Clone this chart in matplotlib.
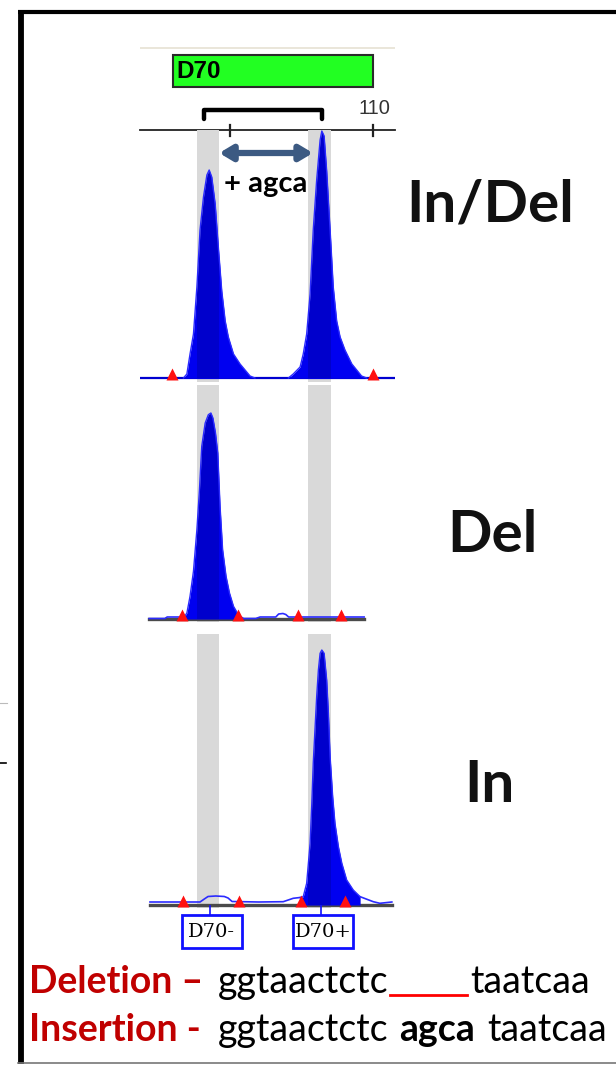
import matplotlib
matplotlib.use("Agg")
import matplotlib.pyplot as plt
from matplotlib.patches import Rectangle, FancyArrowPatch

W, H, DPI = 616, 1066, 100
X0, XW = 140, 255          # pixel extent of the electropherogram x-axis
PX = 10                    # RFU per pixel in the panels

# ---------------- data ----------------
bp_range = [101.85, 110.77]
ruler_ticks = [105, 110]
ruler_labels = ["", "110"]
marker_name = "D70"
marker_range = [103.0, 110.0]
bracket_range = [104.1, 108.2]
insert_range = [104.62, 107.90]
insert_label = "+ agca"
bin_labels = ["D70-", "D70+"]
bin_lo = [103.85, 107.73]
bin_hi = [104.62, 108.53]
sample_labels = ["In/Del", "Del", "In"]

# In/Del sample (heterozygote)
indel_p1_bp = [103.37, 103.49, 103.60, 103.72, 103.84, 103.95, 104.07, 104.19, 104.27, 104.36,
               104.48, 104.59, 104.71, 104.83, 104.94, 105.12, 105.35, 105.70, 105.87]
indel_p1_rfu = [0, 40, 240, 440, 910, 1480, 1810, 2030, 2080, 2010,
                1740, 1310, 870, 570, 410, 240, 140, 20, 0]
indel_p2_bp = [107.04, 107.21, 107.45, 107.56, 107.68, 107.80, 107.91, 108.03, 108.15, 108.21,
               108.29, 108.38, 108.50, 108.61, 108.73, 108.85, 109.02, 109.26, 109.60, 109.78]
indel_p2_rfu = [0, 40, 110, 240, 440, 840, 1480, 1980, 2380, 2470,
                2420, 2070, 1480, 910, 570, 410, 280, 140, 20, 0]
indel_marks_bp = [102.97, 110.0]

# Del sample
del_peak_bp = [103.40, 103.49, 103.60, 103.72, 103.84, 103.93, 104.01, 104.13, 104.24, 104.33,
               104.40, 104.49, 104.57, 104.65, 104.74, 104.86, 104.98, 105.12, 105.29, 105.47]
del_peak_rfu = [20, 60, 227, 477, 893, 1293, 1727, 1960, 2043, 2060,
                2010, 1860, 1660, 1127, 693, 427, 260, 127, 43, 5]
del_left_bp = [102.17, 102.72, 102.80, 103.40]
del_left_rfu = [5, 5, 20, 20]
del_right_bp = [105.47, 105.90, 106.05, 106.60, 106.70, 106.85, 106.95, 107.05, 109.69]
del_right_rfu = [5, 5, 20, 20, 50, 55, 45, 20, 20]
del_marks_bp = [103.32, 105.28, 107.38, 108.88]
del_extent = [102.17, 109.69]

# In sample
in_peak_bp = [107.45, 107.56, 107.68, 107.80, 107.86, 107.91, 107.97, 108.03, 108.09, 108.15,
              108.21, 108.29, 108.38, 108.44, 108.50, 108.59, 108.67, 108.79, 108.91, 109.08,
              109.31, 109.55]
in_peak_rfu = [75, 83, 217, 617, 1017, 1417, 1750, 2083, 2350, 2517,
               2550, 2517, 2250, 1917, 1483, 1083, 817, 583, 417, 250,
               150, 83]
in_left_bp = [102.20, 103.95, 104.10, 104.23, 104.50, 104.80, 104.93, 105.07, 106.00, 106.86, 107.21, 107.45]
in_left_rfu = [30, 30, 60, 85, 90, 85, 70, 35, 30, 33, 67, 75]
in_right_bp = [109.55, 110.01, 110.24, 110.66]
in_right_rfu = [83, 33, 17, 30]
in_marks_bp = [103.36, 105.31, 107.48, 109.02]
in_extent = [102.20, 110.66]

# sequence annotation
del_prefix, del_seq1, del_seq2 = "Deletion \u2013", "ggtaactctc", "taatcaa"
ins_prefix, ins_seq1, ins_ins, ins_seq2 = "Insertion -", "ggtaactctc", "agca", "taatcaa"

# ---------------- figure ----------------
fig = plt.figure(figsize=(W / DPI, H / DPI), dpi=DPI)
fig.patch.set_facecolor("white")

BLUE = "#0000F0"
EDGE = "#2B2BFF"
GREY_BAND = "#D9D9D9"
RED_MARK = "#FF1010"


def panel(top, bottom, base):
    ax = fig.add_axes([X0 / W, 1 - bottom / H, XW / W, (bottom - top) / H])
    ax.set_xlim(bp_range)
    ax.set_ylim(-(bottom - base) * PX, (base - top) * PX)
    ax.axis("off")
    for lo, hi in zip(bin_lo, bin_hi):
        ax.axvspan(lo, hi, color=GREY_BAND, lw=0, zorder=1)
    return ax


def peak(ax, xs, ys):
    coll = ax.fill_between(xs, 0, ys, color=BLUE, lw=0, zorder=3)
    ax.plot(xs, ys, color=EDGE, lw=1.0, zorder=4)
    path = coll.get_paths()[0]
    for lo, hi in zip(bin_lo, bin_hi):
        s = ax.axvspan(lo, hi, color="#000040", alpha=0.2, lw=0, zorder=3.5)
        s.set_clip_path(path, ax.transData)


def marks(ax, xs):
    ax.plot(xs, [38] * len(xs), "^", color=RED_MARK, ms=8.5, mec="none", zorder=6)


# header: marker box, bracket and size ruler
hd = fig.add_axes([X0 / W, 1 - 140 / H, XW / W, 100 / H])
hd.set_xlim(bp_range)
hd.set_ylim(140, 40)
hd.axis("off")
hd.plot(bp_range, [48, 48], color="#E6E2D3", lw=1.2)
hd.add_patch(Rectangle((marker_range[0], 55), marker_range[1] - marker_range[0], 32,
                       fc="#22FF22", ec="#2A2A2A", lw=1.5))
hd.text(marker_range[0] + 0.12, 71.5, marker_name, ha="left", va="center",
        fontsize=17.5, fontweight="bold", family="Liberation Sans", color="black")
hd.plot([bracket_range[0], bracket_range[0], bracket_range[1], bracket_range[1]],
        [119, 110, 110, 119], color="black", lw=3.2, solid_capstyle="round",
        solid_joinstyle="round")
hd.plot(bp_range, [130, 130], color="#222222", lw=1.3, clip_on=False)
for t, lab in zip(ruler_ticks, ruler_labels):
    hd.plot([t, t], [125, 136], color="#222222", lw=1.6, clip_on=False)
    if lab:
        hd.text(t + 0.05, 109, lab, ha="center", va="center", fontsize=14.5,
                family="Liberation Sans", color="#333333")

# panel 1 : In/Del
a1 = panel(130, 382, 378)
a1.plot(bp_range, [0, 0], color="#0000D0", lw=1.6, zorder=2)
peak(a1, indel_p1_bp, indel_p1_rfu)
peak(a1, indel_p2_bp, indel_p2_rfu)
marks(a1, indel_marks_bp)
arr = FancyArrowPatch((insert_range[0], 2250), (insert_range[1], 2250),
                      arrowstyle="<|-|>,head_width=0.3,head_length=0.5",
                      mutation_scale=15, lw=4.5, color="#3C5A82",
                      shrinkA=0, shrinkB=0, joinstyle="round", zorder=7)
a1.add_patch(arr)
a1.text(sum(insert_range) / 2, 1940, insert_label, ha="center", va="center",
        fontsize=21, fontweight="bold", family="Lato", color="black", zorder=7)

# panel 2 : Del
a2 = panel(385, 622, 619)
a2.plot(del_extent, [0, 0], color="#4A4A4A", lw=2.4, zorder=2)
a2.plot(del_left_bp, del_left_rfu, color="#2B2BFF", lw=1.2, zorder=4)
a2.plot(del_right_bp, del_right_rfu, color="#2B2BFF", lw=1.2, zorder=4)
peak(a2, del_peak_bp, del_peak_rfu)
marks(a2, del_marks_bp)

# panel 3 : In
a3 = panel(634, 908, 905)
a3.plot(in_extent, [0, 0], color="#4A4A4A", lw=2.4, zorder=2)
a3.plot(in_left_bp, in_left_rfu, color="#2B2BFF", lw=1.2, zorder=4)
a3.plot(in_right_bp, in_right_rfu, color="#2B2BFF", lw=1.2, zorder=4)
peak(a3, in_peak_bp, in_peak_rfu)
marks(a3, in_marks_bp)

# bin labels
bl = fig.add_axes([X0 / W, 1 - 955 / H, XW / W, 50 / H])
bl.set_xlim(bp_range)
bl.set_ylim(955, 905)
bl.axis("off")
for lab, lo, hi in zip(bin_labels, bin_lo, bin_hi):
    c = (lo + hi) / 2
    bl.plot([c + 0.05, c + 0.05], [905, 915], color="#1010FF", lw=1.2)
    bx = c + 0.12
    bl.add_patch(Rectangle((bx - 1.05, 915), 2.1, 33, fc="white", ec="#1010FF", lw=2))
    bl.text(bx, 932, lab, ha="center", va="center", fontsize=14,
            family="DejaVu Serif", color="black")

# overlay: frame, sample labels, sequences
ov = fig.add_axes([0, 0, 1, 1])
ov.set_xlim(0, W)
ov.set_ylim(H, 0)
ov.axis("off")
ov.patch.set_alpha(0)

ov.plot([18, W], [12, 12], color="black", lw=3.0, solid_capstyle="butt")
ov.plot([21, 21], [10, 1064], color="black", lw=4.2, solid_capstyle="butt")
ov.plot([18, W], [1063, 1063], color="#777777", lw=1.2)
ov.plot([0, 7], [703, 703], color="#BBBBBB", lw=0.8)
ov.plot([0, 6], [763, 763], color="black", lw=1.2)

for lab, (x, y) in zip(sample_labels, [(490, 205), (492, 536), (489, 786)]):
    ov.text(x, y, lab, ha="center", va="center", fontsize=42,
            fontweight="bold", family="Lato", color="#111111")

FS = 27
RED = "#C00000"
ov.text(29, 993, del_prefix, ha="left", va="baseline", fontsize=FS,
        fontweight="bold", family="Lato", color=RED)
ov.text(218, 993, del_seq1, ha="left", va="baseline", fontsize=FS, family="Lato", color="black")
ov.plot([390, 467], [995, 995], color="#FF0000", lw=2.0)
ov.text(470, 993, del_seq2, ha="left", va="baseline", fontsize=FS, family="Lato", color="black")

ov.text(29, 1041, ins_prefix, ha="left", va="baseline", fontsize=FS,
        fontweight="bold", family="Lato", color=RED)
ov.text(218, 1041, ins_seq1, ha="left", va="baseline", fontsize=FS, family="Lato", color="black")
ov.text(399, 1041, ins_ins, ha="left", va="baseline", fontsize=FS,
        fontweight="bold", family="Lato", color="black")
ov.text(487, 1041, ins_seq2, ha="left", va="baseline", fontsize=FS, family="Lato", color="black")

fig.savefig("out.png", dpi=DPI, facecolor="white")
